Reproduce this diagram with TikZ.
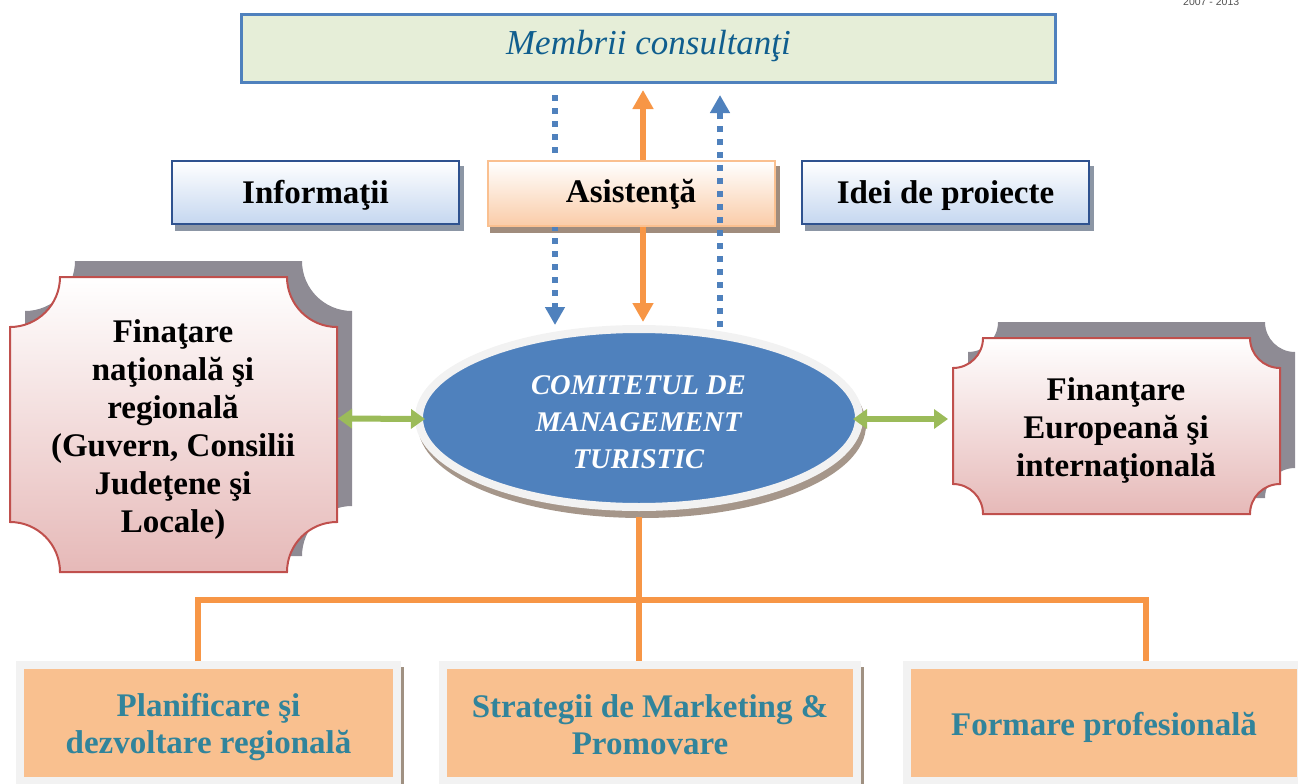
\documentclass[tikz,border=0pt]{standalone}
\usepackage{fontspec}
\setmainfont{Liberation Serif}
\newfontfamily\hdrfont{Liberation Sans}
\usetikzlibrary{arrows.meta,shapes.geometric}
\definecolor{mgreen}{RGB}{230,238,216}
\definecolor{mblue}{RGB}{79,129,189}
\definecolor{mtxt}{RGB}{16,94,142}
\definecolor{infoborder}{RGB}{47,82,143}
\definecolor{infobot}{RGB}{197,215,240}
\definecolor{infoshadow}{RGB}{140,150,165}
\definecolor{asborder}{RGB}{250,192,144}
\definecolor{asbot}{RGB}{250,204,168}
\definecolor{asshadow}{RGB}{160,140,125}
\definecolor{orangeln}{RGB}{247,150,70}
\definecolor{greenln}{RGB}{155,187,89}
\definecolor{plborder}{RGB}{192,80,77}
\definecolor{plbot}{RGB}{230,185,184}
\definecolor{plshadow}{RGB}{142,139,148}
\definecolor{ering}{RGB}{242,242,242}
\definecolor{eshadow}{RGB}{165,150,138}
\definecolor{bframe}{RGB}{242,242,242}
\definecolor{bfill}{RGB}{249,192,143}
\definecolor{btxt}{RGB}{49,132,155}
\definecolor{bshadow}{RGB}{160,145,130}
\newcommand{\plaqueshape}[6]{%
\path[#1] (#2+#6,-#3) -- (#4-#6,-#3) arc[start angle=180,end angle=270,radius=#6]
 -- (#4,-#5+#6) arc[start angle=90,end angle=180,radius=#6]
 -- (#2+#6,-#5) arc[start angle=0,end angle=90,radius=#6]
 -- (#2,-#3-#6) arc[start angle=270,end angle=360,radius=#6] -- cycle;}
\begin{document}
\begin{tikzpicture}[x=1pt,y=1pt,line join=miter,
  boldtxt/.style={font=\bfseries\fontsize{33}{38}\selectfont,align=center,inner sep=0pt},
  infobox/.style={draw=infoborder,line width=2pt,top color=white,bottom color=infobot,
     minimum width=287pt,minimum height=63pt,inner sep=0pt,outer sep=0pt,
     font=\bfseries\fontsize{33}{38}\selectfont,text height=22pt,text depth=1pt},
  bluedot/.style={draw=mblue,line width=6pt,dash pattern=on 6pt off 7pt,
     -{Triangle[width=19pt,length=18pt]}},
  orangearr/.style={draw=orangeln,line width=6pt,
     {Triangle[width=20pt,length=19pt]}-{Triangle[width=20pt,length=19pt]}},
  greenarr/.style={draw=greenln,line width=6pt,
     {Triangle[width=19pt,length=14pt]}-{Triangle[width=19pt,length=14pt]}},
  orangeline/.style={draw=orangeln,line width=6pt},
  bottombox/.style={fill=bfill,inner sep=0pt,outer sep=0pt,minimum height=108pt},
  bottomtxt/.style={font=\bfseries\fontsize{33}{37}\selectfont,text=btxt,align=center,inner sep=0pt}
]
\useasboundingbox (0,0) rectangle (1298,-784);

% header fragment
\node[font=\hdrfont\fontsize{10.5}{12}\selectfont,text={rgb,255:red,80;green,80;blue,80},
  anchor=base west,inner sep=0pt] (hdr) at (1183,-6) {2007 - 2013};

% Membrii consultanti
\node[draw=mblue,line width=3pt,fill=mgreen,minimum width=814pt,minimum height=68pt,
  inner sep=0pt,font=\itshape\fontsize{35}{38}\selectfont,text=mtxt,
  text height=22pt,text depth=10pt] (mem) at (648.5,-48.5) {Membrii consultanţi};

% ellipse
\fill[eshadow] (642,-425) ellipse[x radius=224, y radius=93];
\node[ellipse,minimum width=440pt,minimum height=178pt,fill=mblue,draw=ering,
  line width=8pt,inner sep=0pt] (cmt) at (639,-418) {};
\node[font=\bfseries\itshape\fontsize{28.5}{37}\selectfont,text=white,align=center,
  inner sep=0pt] (cmtt) at (638.5,-421.75) {COMITETUL DE\\MANAGEMENT\\TURISTIC};

% Asistenta shadow
\fill[asshadow] (490,-166) rectangle (780,-233);

% arrows behind Asistenta
\draw[bluedot] ([xshift=-93.5pt,yshift=-11pt]mem.south) -- ([xshift=-84pt]cmt.north);
\draw[orangearr] ([xshift=-5.5pt,yshift=-6pt]mem.south) -- ([xshift=4pt,yshift=3pt]cmt.north);

% info boxes
\node[infobox,draw=asborder,bottom color=asbot,minimum height=65pt,text depth=5pt] (asist) at (631,-193.5) {Asistenţă};
\draw[bluedot] ([xshift=81pt,yshift=-2pt]cmt.north) -- ([xshift=71.5pt,yshift=-11pt]mem.south);

\fill[infoshadow] (175,-166) rectangle (464,-231);
\node[infobox] (info) at (315.5,-192.5) {Informaţii};
\fill[infoshadow] (805,-166) rectangle (1094,-231);
\node[infobox] (idei) at (945.5,-192.5) {Idei de proiecte};

% left plaque
\plaqueshape{fill=plshadow}{25}{261}{352}{556}{50}
\plaqueshape{draw=plborder,line width=2pt,top color=white,bottom color=plbot}{10}{277}{337}{572}{50}
\node[inner sep=0pt,outer sep=0pt,minimum width=327pt,minimum height=295pt] (lp) at (173.5,-424.5) {};
\node[boldtxt] (lpt) at (173,-430) {Finaţare\\naţională şi\\regională\\(Guvern, Consilii\\Judeţene şi\\Locale)};

% right plaque
\plaqueshape{fill=plshadow}{968}{322}{1295}{498}{30}
\plaqueshape{draw=plborder,line width=2pt,top color=white,bottom color=plbot}{953}{338}{1280}{514}{30}
\node[inner sep=0pt,outer sep=0pt,minimum width=327pt,minimum height=176pt] (rp) at (1116.5,-426) {};
\node[boldtxt] (rpt) at (1116,-430) {Finanţare\\Europeană şi\\internaţională};

% green arrows
\draw[greenarr] ([xshift=1pt,yshift=6pt]lp.east) -- ([xshift=10pt,yshift=-1pt]cmt.west);
\draw[greenarr] ([xshift=-10pt,yshift=-1pt]cmt.east) -- ([xshift=-5pt,yshift=7pt]rp.west);

% bottom boxes
\fill[bshadow] (19,-667) rectangle (404,-790);
\fill[bframe] (16,-661) rectangle (401,-785);
\node[bottombox,minimum width=369pt] (b1) at (208.5,-723) {};
\node[bottomtxt] (b1t) at (208.5,-726.75) {Planificare şi\\dezvoltare regională};

\fill[bshadow] (442,-667) rectangle (864,-790);
\fill[bframe] (439,-661) rectangle (861,-785);
\node[bottombox,minimum width=406pt] (b2) at (650,-723) {};
\node[bottomtxt] (b2t) at (650,-724.5) {Strategii de Marketing \&\\Promovare};

\fill[bframe] (903,-661) rectangle (1305,-785);
\node[bottombox,minimum width=386pt,font=\bfseries\fontsize{33}{37}\selectfont,text=btxt,
  text height=24pt,text depth=0pt] (b3) at (1104,-723) {Formare profesională};

% orange tree
\coordinate (junc) at (639,-600);
\draw[orangeline] ([yshift=-6pt]cmt.south) -- (junc);
\draw[orangeline] ([xshift=-10.5pt,yshift=8pt]b1.north) -- (198,-600) -- (1146,-600) -- ([xshift=42pt,yshift=8pt]b3.north);
\draw[orangeline] (junc) -- ([xshift=-11pt,yshift=8pt]b2.north);
\end{tikzpicture}
\end{document}
